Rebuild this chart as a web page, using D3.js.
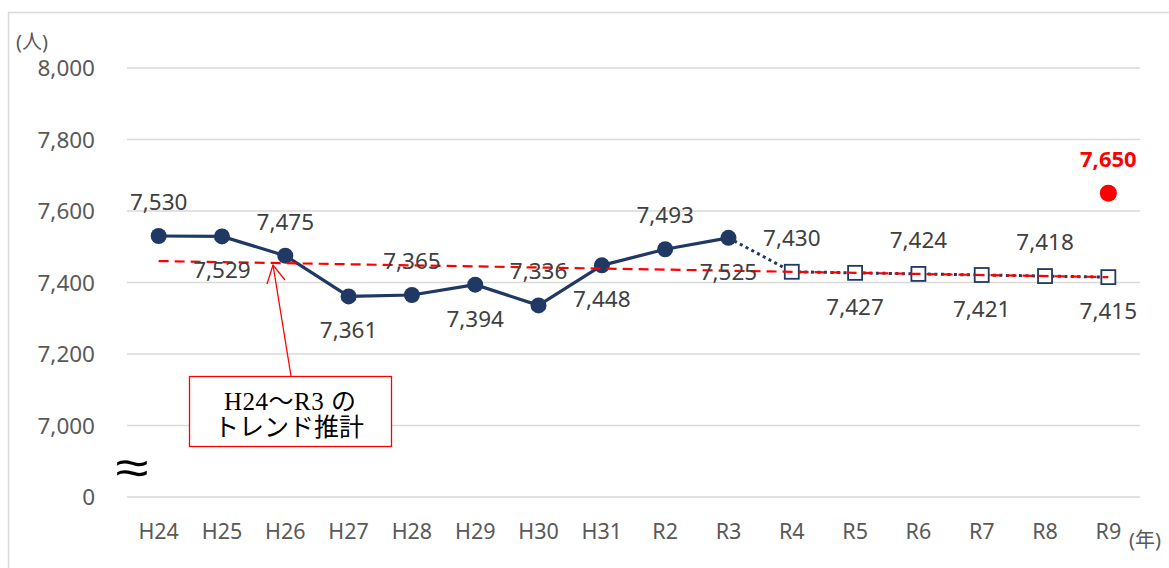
<!DOCTYPE html>
<html>
<head>
<meta charset="utf-8">
<script src="https://cdn.jsdelivr.net/npm/d3@7"></script>
<style>
  html, body { margin: 0; padding: 0; background: #fff; }
  svg { display: block; }
</style>
</head>
<body>
<svg id="chart" width="1169" height="568"></svg>
<script>
// Fiscal years on the x axis
const categories = ["H24","H25","H26","H27","H28","H29","H30","H31","R2","R3","R4","R5","R6","R7","R8","R9"];
// Recorded headcount H24–R3
const actualYears = ["H24","H25","H26","H27","H28","H29","H30","H31","R2","R3"];
const actualValues = [7530, 7529, 7475, 7361, 7365, 7394, 7336, 7448, 7493, 7525];
// Projected headcount R4–R9
const forecastYears = ["R4","R5","R6","R7","R8","R9"];
const forecastValues = [7430, 7427, 7424, 7421, 7418, 7415];
// Target for R9
const targetYear = "R9";
const targetValue = 7650;
// Trend line (H24–R3 estimate) end points
const trendYears = ["H24", "R9"];
const trendValues = [7460, 7415];
// Y axis ticks; the lowest tick sits below the axis break and reads 0
const yTickValues = [6800, 7000, 7200, 7400, 7600, 7800, 8000];
const yTickLabels = ["0", "7,000", "7,200", "7,400", "7,600", "7,800", "8,000"];

const NAVY = "#203864";
const RED = "#FF0000";
const GRID = "#D9D9D9";
const AXIS_TEXT = "#595959";
const LABEL_TEXT = "#404040";
const FONT = "'Noto Sans', 'Open Sans', 'Noto Sans CJK JP', sans-serif";

const svg = d3.select("#chart");

// outer frame
svg.append("path")
  .attr("d", "M8.5,568 V12.5 H1169")
  .attr("fill", "none")
  .attr("stroke", GRID)
  .attr("stroke-width", 1.5);

const x = d3.scaleBand().domain(categories).range([127, 1140]);
const cx = d => x(d) + x.bandwidth() / 2;
const y = d3.scaleLinear().domain([6800, 8000]).range([497, 68]);

// horizontal gridlines
svg.append("g").selectAll("line").data(yTickValues).join("line")
  .attr("x1", 127).attr("x2", 1140)
  .attr("y1", d => y(d)).attr("y2", d => y(d))
  .attr("stroke", GRID).attr("stroke-width", 1.3);

// y axis labels
const yAxis = d3.axisLeft(y).tickValues(yTickValues)
  .tickFormat((d, i) => yTickLabels[i]).tickSize(0).tickPadding(0);
const gy = svg.append("g").attr("transform", "translate(95,0)").call(yAxis);
gy.select(".domain").remove();
gy.selectAll("text")
  .attr("fill", AXIS_TEXT).style("font-family", FONT).style("font-size", "22.5px")
  .attr("dy", "0.35em");

// x axis labels
const xAxis = d3.axisBottom(x).tickSize(0).tickPadding(0);
const gx = svg.append("g").attr("transform", "translate(0,531)").call(xAxis);
gx.select(".domain").remove();
gx.selectAll("text")
  .attr("fill", AXIS_TEXT).style("font-family", FONT).style("font-size", "21.5px")
  .attr("dy", "0.35em");

// axis unit labels
svg.append("text").attr("x", 16).attr("y", 42).attr("dy", "0.35em")
  .attr("fill", AXIS_TEXT).style("font-family", FONT).style("font-size", "20px")
  .text("(人)");
svg.append("text").attr("x", 1129).attr("y", 540).attr("dy", "0.35em")
  .attr("fill", AXIS_TEXT).style("font-family", FONT).style("font-size", "20px")
  .text("(年)");

// axis break mark, stretched horizontally
svg.append("text")
  .attr("transform", "translate(132,467) scale(1.25,1)")
  .attr("dy", "0.35em")
  .attr("text-anchor", "middle").attr("fill", "#000")
  .style("font-family", "'DejaVu Sans', sans-serif").style("font-size", "48px")
  .style("font-weight", "300")
  .text("≈");

// recorded series
const actual = actualYears.map((k, i) => ({ k, v: actualValues[i] }));
const forecast = forecastYears.map((k, i) => ({ k, v: forecastValues[i] }));
const line = d3.line().x(d => cx(d.k)).y(d => y(d.v));

svg.append("path").datum(actual)
  .attr("d", line).attr("fill", "none")
  .attr("stroke", NAVY).attr("stroke-width", 3.2).attr("stroke-linejoin", "round");

// projected series, joined to the last recorded point
const projected = [actual[actual.length - 1]].concat(forecast);
svg.append("path").datum(projected)
  .attr("d", line).attr("fill", "none")
  .attr("stroke", NAVY).attr("stroke-width", 3).attr("stroke-dasharray", "3,3.5");

svg.append("g").selectAll("circle").data(actual).join("circle")
  .attr("cx", d => cx(d.k)).attr("cy", d => y(d.v)).attr("r", 8)
  .attr("fill", NAVY);

svg.append("g").selectAll("rect").data(forecast).join("rect")
  .attr("x", d => cx(d.k) - 7).attr("y", d => y(d.v) - 7)
  .attr("width", 14).attr("height", 14)
  .attr("fill", "#fff").attr("stroke", NAVY).attr("stroke-width", 1.8);

// trend estimate
svg.append("line")
  .attr("x1", cx(trendYears[0])).attr("y1", y(trendValues[0]))
  .attr("x2", cx(trendYears[1])).attr("y2", y(trendValues[1]))
  .attr("stroke", RED).attr("stroke-width", 2.2).attr("stroke-dasharray", "10,6");

// target point
svg.append("circle")
  .attr("cx", cx(targetYear)).attr("cy", y(targetValue)).attr("r", 8.5)
  .attr("fill", RED);

// data labels alternate above / below the markers
const allPoints = actual.concat(forecast);
svg.append("g").selectAll("text").data(allPoints).join("text")
  .attr("x", d => cx(d.k))
  .attr("y", (d, i) => y(d.v) + (i % 2 === 0 ? -34 : 34))
  .attr("dy", "0.35em").attr("text-anchor", "middle")
  .attr("fill", LABEL_TEXT).style("font-family", FONT).style("font-size", "22.5px")
  .text(d => d3.format(",")(d.v));

svg.append("text")
  .attr("x", cx(targetYear)).attr("y", y(targetValue) - 34)
  .attr("dy", "0.35em").attr("text-anchor", "middle")
  .attr("fill", RED).style("font-family", FONT).style("font-size", "22px")
  .style("font-weight", "bold")
  .text(d3.format(",")(targetValue));

// callout for the trend line
const callout = svg.append("g");
callout.append("line")
  .attr("x1", 291).attr("y1", 376).attr("x2", 273).attr("y2", 265)
  .attr("stroke", RED).attr("stroke-width", 1.3);
callout.append("path")
  .attr("d", "M267,284 L273,265 L285,280")
  .attr("fill", "none").attr("stroke", RED).attr("stroke-width", 1.3);
callout.append("rect")
  .attr("x", 189.5).attr("y", 376.5).attr("width", 202).attr("height", 70)
  .attr("fill", "#fff").attr("stroke", RED).attr("stroke-width", 1.3);
const calloutFont = "'Liberation Serif', 'DejaVu Serif', 'Noto Sans CJK JP', serif";
callout.append("text").attr("x", 224).attr("y", 401).attr("dy", "0.35em")
  .attr("fill", "#000").style("font-family", calloutFont).style("font-size", "25px")
  .style("letter-spacing", "0.5px")
  .text("H24～R3 の");
callout.append("text").attr("x", 214).attr("y", 427).attr("dy", "0.35em")
  .attr("fill", "#000").style("font-family", calloutFont).style("font-size", "25px")
  .text("トレンド推計");
</script>
</body>
</html>
